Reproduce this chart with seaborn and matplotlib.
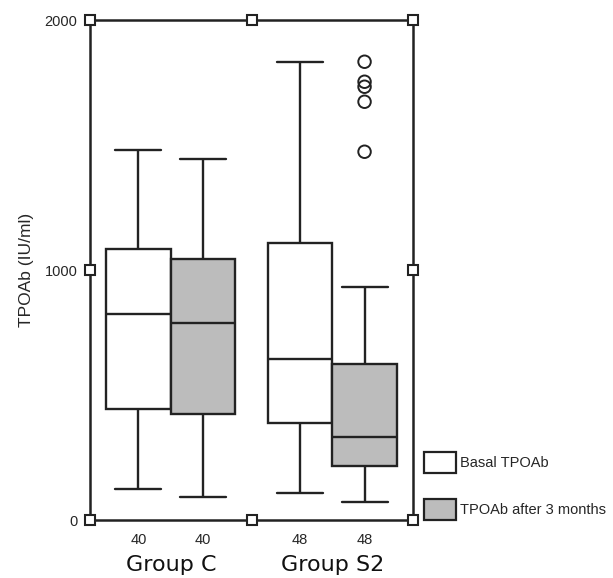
import numpy as np
import pandas as pd
import matplotlib
matplotlib.use("Agg")
import matplotlib.pyplot as plt
from matplotlib.patches import Patch
import seaborn as sns

groups = ["Group C", "Group S2"]
times = ["Basal TPOAb", "TPOAb after 3 months"]
counts = ["40", "40", "48", "48"]

# five-number summaries: low whisker, Q1, median, Q3, high whisker
c_basal = [124, 444, 825, 1084, 1479]
c_after = [91, 423, 787, 1044, 1444]
s2_basal = [109, 388, 645, 1109, 1833]
s2_after = [72, 216, 331, 623, 933]
s2_after_outliers = [1473, 1673, 1733, 1753, 1833]

rows = []
for g, t, vals in [(groups[0], times[0], c_basal), (groups[0], times[1], c_after),
                   (groups[1], times[0], s2_basal), (groups[1], times[1], s2_after)]:
    for v in vals:
        rows.append((g, t, v))
df = pd.DataFrame(rows, columns=["group", "time", "value"])
out = pd.DataFrame({"group": groups[1], "time": times[1], "value": s2_after_outliers})

sns.set_style("white")
plt.rcParams["font.family"] = ["Liberation Sans", "DejaVu Sans"]

ink = "#222222"
fig = plt.figure(figsize=(6.13, 5.78), dpi=100)
ax = fig.add_axes([90 / 613, 1 - 520 / 578, 323 / 613, 500 / 578])

sns.boxplot(data=df, x="group", y="value", hue="time", order=groups, hue_order=times,
            palette=["white", "#bcbcbc"], whis=(0, 100), width=0.8, gap=0,
            linecolor=ink, linewidth=1.7, legend=False, capwidths=0.285, ax=ax)

sns.stripplot(data=out, x="group", y="value", hue="time", order=groups, hue_order=times,
              dodge=True, jitter=False, size=9, legend=False, ax=ax)
for coll in ax.collections:
    coll.set_facecolor("none")
    coll.set_edgecolor(ink)
    coll.set_linewidth(1.4)

ax.set_xlim(-0.5, 1.5)
ax.set_ylim(0, 2000)
ax.set_xlabel("")
ax.set_ylabel("TPOAb (IU/ml)", fontsize=12.5, labelpad=8)

ax.set_yticks([0, 1000, 2000])
ax.set_yticklabels(["0", "1000", "2000"], fontsize=10.5)
ax.tick_params(axis="y", length=0, pad=9)

centers = sorted((p.get_path().vertices[:, 0].min() + p.get_path().vertices[:, 0].max()) / 2
                 for p in ax.patches)
ax.set_xticks(centers)
ax.set_xticklabels(counts, fontsize=10.5)
ax.set_xticks([0], minor=True)
ax.tick_params(axis="x", which="major", length=0, pad=9)
ax.tick_params(axis="x", which="minor", length=5, width=1.4, color=ink, direction="out")

for i, g in enumerate(groups):
    ax.text(i, -0.102, g, transform=ax.get_xaxis_transform(), ha="center", va="baseline",
            fontsize=16, family="DejaVu Sans", color="#111111")

for s in ax.spines.values():
    s.set_visible(True)
    s.set_color(ink)
    s.set_linewidth(1.8)

# square markers at the corners and mid-points of the frame
sq = [(0, 0), (0, 0.5), (0, 1), (0.5, 0), (0.5, 1), (1, 0), (1, 0.5), (1, 1)]
ax.plot([p[0] for p in sq], [p[1] for p in sq], "s", transform=ax.transAxes, ms=7,
        mfc="white", mec=ink, mew=1.5, ls="none", clip_on=False, zorder=5)

handles = [Patch(facecolor="white", edgecolor=ink, linewidth=1.6),
           Patch(facecolor="#bcbcbc", edgecolor=ink, linewidth=1.6)]
fig.legend(handles, times, loc="upper left", bbox_to_anchor=(424 / 613, 1 - 452 / 578),
           frameon=False, fontsize=10.5, handlelength=2.2, handleheight=1.85,
           handletextpad=0.3, labelspacing=1.75, borderpad=0, borderaxespad=0)

fig.savefig("out.png", dpi=100)
